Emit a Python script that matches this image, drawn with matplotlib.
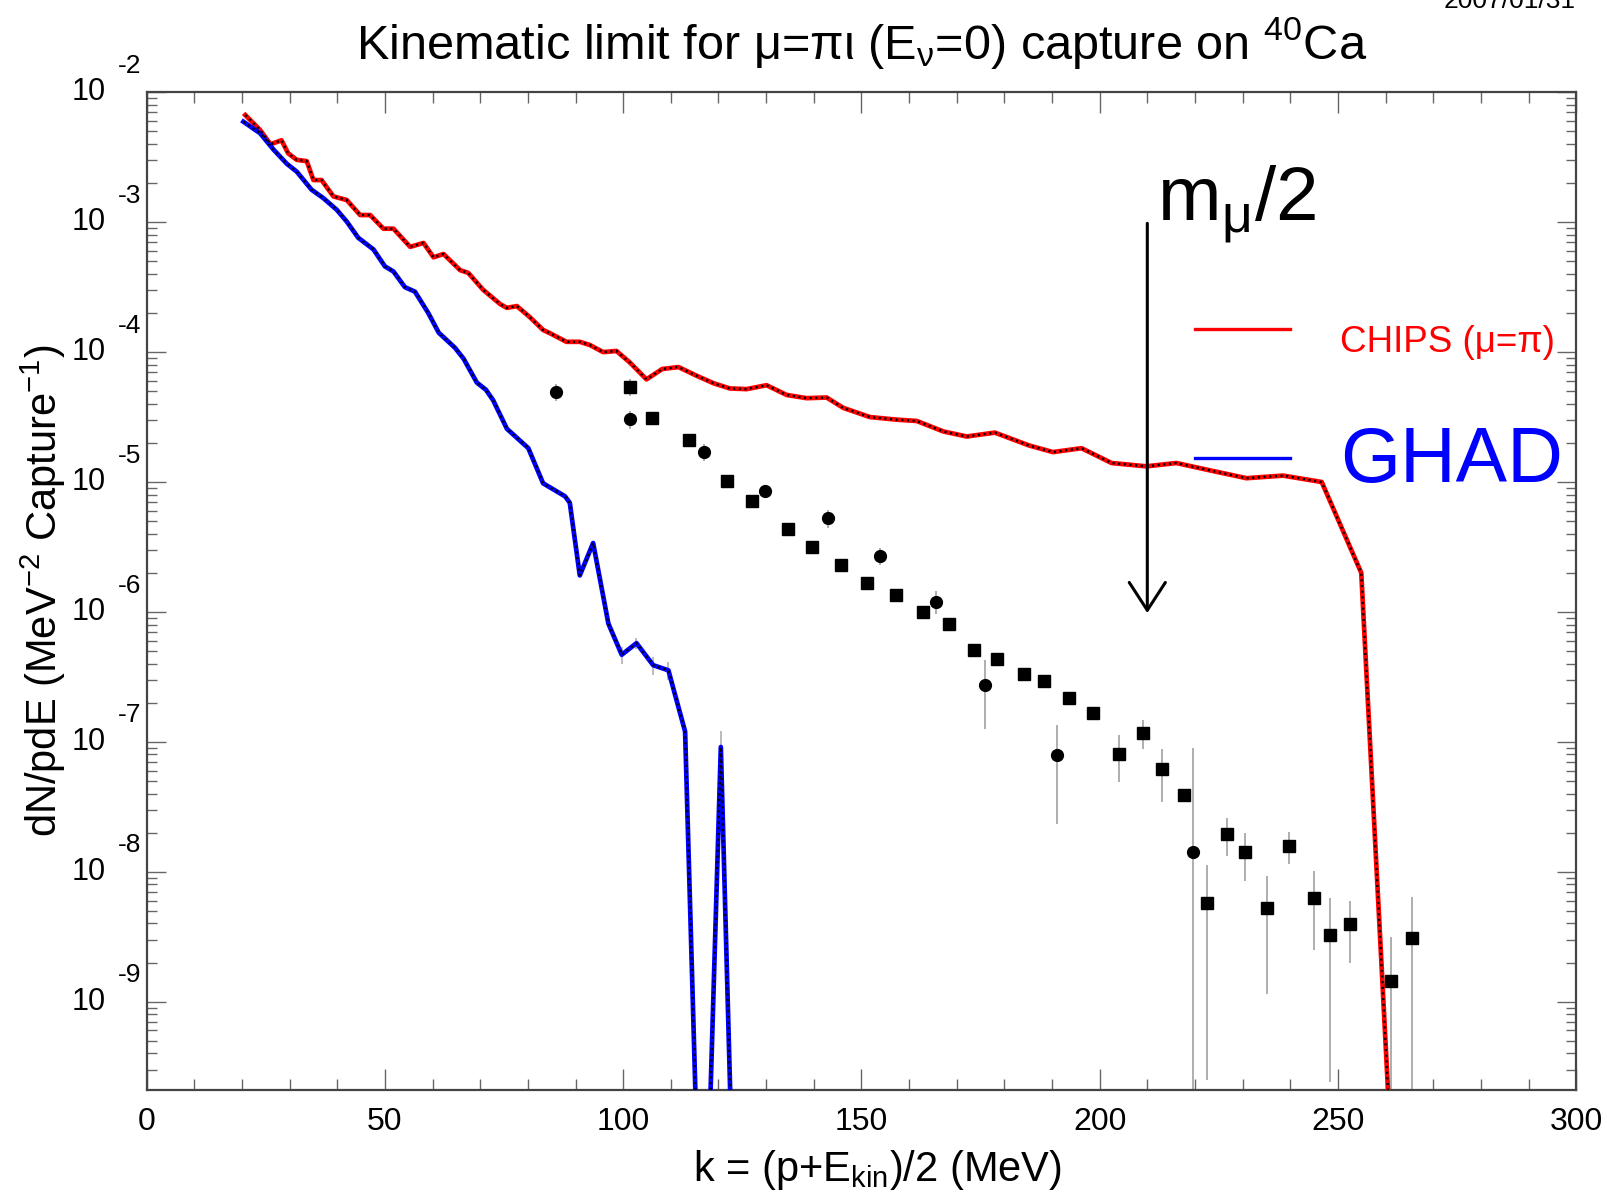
import numpy as np
import matplotlib
matplotlib.use('Agg')
import matplotlib.pyplot as plt
from matplotlib.ticker import LogLocator, NullFormatter, FixedLocator

plt.rcParams['font.family'] = ['Liberation Sans', 'DejaVu Sans']
plt.rcParams['mathtext.fontset'] = 'custom'
plt.rcParams['mathtext.rm'] = 'Liberation Sans'
plt.rcParams['mathtext.it'] = 'Liberation Sans:italic'
plt.rcParams['mathtext.bf'] = 'Liberation Sans:bold'
plt.rcParams['mathtext.sf'] = 'Liberation Sans'

# ---------------- data ----------------
chips_k = [20.7, 23.8, 26.0, 28.3, 29.7, 31.5, 33.6, 35.0, 36.7, 39.2, 42.0, 44.8, 46.9,
           49.7, 51.8, 55.3, 58.1, 60.2, 62.3, 65.8, 67.5, 70.6, 74.2, 75.6, 77.7, 80.4,
           83.2, 84.6, 88.1, 90.9, 93.0, 95.8, 98.6, 101.4, 104.9, 108.2, 111.6, 115.6,
           119.0, 122.4, 125.9, 130.1, 134.3, 138.5, 142.7, 146.2, 151.8, 157.4, 161.6,
           167.2, 172.1, 178.0, 185.2, 190.2, 196.2, 202.5, 209.8, 216.1, 223.1, 230.8,
           238.5, 246.6, 254.9, 260.6]
chips_val = [6.68e-3, 5.13e-3, 3.98e-3, 4.27e-3, 3.39e-3, 3.02e-3, 2.95e-3, 2.11e-3, 2.11e-3,
             1.58e-3, 1.48e-3, 1.135e-3, 1.135e-3, 8.91e-4, 8.91e-4, 6.46e-4, 6.92e-4,
             5.37e-4, 5.69e-4, 4.27e-4, 4.07e-4, 3.02e-4, 2.34e-4, 2.19e-4, 2.26e-4, 1.86e-4,
             1.48e-4, 1.40e-4, 1.20e-4, 1.20e-4, 1.135e-4, 1.00e-4, 1.02e-4, 8.32e-5, 6.17e-5,
             7.41e-5, 7.67e-5, 6.53e-5, 5.75e-5, 5.25e-5, 5.19e-5, 5.56e-5, 4.68e-5, 4.42e-5,
             4.47e-5, 3.72e-5, 3.16e-5, 3.02e-5, 2.95e-5, 2.45e-5, 2.24e-5, 2.40e-5, 1.91e-5,
             1.70e-5, 1.82e-5, 1.40e-5, 1.32e-5, 1.40e-5, 1.23e-5, 1.07e-5, 1.12e-5, 1.00e-5,
             2.00e-6, 1.8e-10]

ghad_k = [20.3, 23.8, 26.6, 29.4, 31.5, 34.6, 37.1, 39.9, 42.0, 44.4, 47.6, 50.0, 51.8,
          54.2, 56.3, 59.1, 61.3, 64.7, 66.5, 69.3, 71.2, 72.7, 75.6, 80.1, 83.2, 87.8,
          88.8, 90.9, 93.7, 96.9, 99.7, 102.8, 106.3, 109.5, 113.0, 115.2, 118.3, 120.5,
          122.5]
ghad_val = [5.94e-3, 4.84e-3, 3.63e-3, 2.82e-3, 2.45e-3, 1.78e-3, 1.53e-3, 1.245e-3, 1.01e-3,
            7.59e-4, 6.17e-4, 4.57e-4, 4.17e-4, 3.16e-4, 2.92e-4, 2.00e-4, 1.41e-4, 1.08e-4,
            8.91e-5, 5.82e-5, 5.13e-5, 4.27e-5, 2.57e-5, 1.82e-5, 9.77e-6, 7.76e-6, 6.92e-6,
            1.91e-6, 3.39e-6, 8.13e-7, 4.68e-7, 5.75e-7, 3.89e-7, 3.55e-7, 1.20e-7, 1.8e-10,
            1.8e-10, 9.12e-8, 1.8e-10]
ghad_err_k = [99.7, 102.8, 106.3, 109.5, 120.5]
ghad_err_val = [4.68e-7, 5.75e-7, 3.89e-7, 3.55e-7, 9.12e-8]
ghad_err = [7.0e-8, 6.0e-8, 6.0e-8, 5.5e-8, 3.0e-8]

circ_k = [86.0, 101.4, 117.0, 129.8, 142.9, 153.9, 165.7, 176.0, 191.1, 219.5]
circ_val = [4.95e-5, 3.04e-5, 1.70e-5, 8.51e-6, 5.25e-6, 2.69e-6, 1.20e-6, 2.75e-7, 7.94e-8,
            1.41e-8]
circ_err = [7.4e-6, 4.6e-6, 2.6e-6, 1.0e-6, 7.9e-7, 4.0e-7, 2.4e-7, 1.5e-7, 5.6e-8, 7.5e-8]

sq_k = [101.4, 106.0, 113.9, 121.7, 127.0, 134.6, 139.7, 145.7, 151.1, 157.3, 162.9, 168.3,
        173.7, 178.4, 184.2, 188.3, 193.5, 198.6, 204.0, 209.2, 213.0, 217.8, 222.5, 226.8,
        230.5, 235.2, 239.7, 244.9, 248.3, 252.6, 261.2, 265.6]
sq_val = [5.37e-5, 3.13e-5, 2.10e-5, 1.02e-5, 7.08e-6, 4.37e-6, 3.16e-6, 2.29e-6, 1.66e-6,
          1.35e-6, 1.00e-6, 8.13e-7, 5.13e-7, 4.37e-7, 3.31e-7, 2.95e-7, 2.19e-7, 1.66e-7,
          8.13e-8, 1.17e-7, 6.17e-8, 3.89e-8, 5.75e-9, 1.95e-8, 1.41e-8, 5.25e-9, 1.58e-8,
          6.31e-9, 3.24e-9, 3.98e-9, 1.45e-9, 3.09e-9]
sq_err = [8.1e-6, 1.6e-6, 1.1e-6, 5.0e-7, 3.5e-7, 2.2e-7, 1.9e-7, 1.4e-7, 1.0e-7, 9.5e-8,
          7.0e-8, 5.7e-8, 4.1e-8, 3.5e-8, 3.0e-8, 2.7e-8, 2.2e-8, 2.0e-8, 3.2e-8, 2.9e-8,
          2.7e-8, 4.7e-9, 5.5e-9, 6.4e-9, 5.6e-9, 4.1e-9, 4.3e-9, 3.8e-9, 3.0e-9, 2.0e-9,
          1.7e-9, 3.3e-9]

y_decades = [-9, -8, -7, -6, -5, -4, -3, -2]
x_major = [0, 50, 100, 150, 200, 250, 300]

arrow_k = 210
arrow_top = 9.8e-4
arrow_bottom = 9.8e-7

YMIN, YMAX = 2.09e-10, 1e-2

# ---------------- figure ----------------
fig = plt.figure(figsize=(16.08, 12.0), dpi=100)
ax = fig.add_axes([0.0912, 0.0917, 0.889, 0.8314])
ax.set_yscale('log')
ax.set_xlim(0, 300)
ax.set_ylim(YMIN, YMAX)

def vbars(k, v, e, lw=1.3):
    v = np.asarray(v); e = np.asarray(e)
    lo = np.clip(v - e, 1e-14, None)
    hi = v + e
    ax.vlines(k, lo, hi, color='#a8a8a8', lw=lw, zorder=2)

# curves
ax.plot(chips_k, chips_val, color='#ff0000', lw=3.4, zorder=3, solid_joinstyle='round')
ax.plot(chips_k, chips_val, color='black', lw=1.7, ls=(0, (0.9, 1.5)), zorder=4,
        dash_capstyle='butt')
vbars(ghad_err_k, ghad_err_val, ghad_err, lw=1.1)
ax.plot(ghad_k, ghad_val, color='#0000ff', lw=3.4, zorder=3, solid_joinstyle='round')
ax.plot(ghad_k, ghad_val, color='black', lw=1.7, ls=(0, (0.9, 1.5)), zorder=4,
        dash_capstyle='butt')

# data points
vbars(circ_k, circ_val, circ_err)
vbars(sq_k, sq_val, sq_err)
ax.plot(circ_k, circ_val, 'o', color='black', ms=8.5, mec='black', zorder=5)
ax.plot(sq_k, sq_val, 's', color='black', ms=8.8, mec='black', zorder=5)

# ticks
ax.xaxis.set_major_locator(FixedLocator(x_major))
ax.xaxis.set_minor_locator(FixedLocator(np.arange(0, 301, 10)))
ax.yaxis.set_major_locator(LogLocator(base=10, numticks=30))
ax.yaxis.set_minor_locator(LogLocator(base=10, subs=np.arange(2, 10), numticks=30))
ax.yaxis.set_minor_formatter(NullFormatter())
ax.tick_params(which='both', direction='in', top=True, right=True, color='#666666', width=1.0)
ax.tick_params(axis='x', which='major', length=15, labelsize=23, pad=12)
ax.tick_params(axis='x', which='minor', length=8)
ax.tick_params(axis='y', which='major', length=14, labelleft=False)
ax.tick_params(axis='y', which='minor', length=7)
for sp in ax.spines.values():
    sp.set_color('#444444')
    sp.set_linewidth(1.6)

for e in y_decades:
    ax.annotate('10', xy=(0, 10.0 ** e), xycoords=('axes fraction', 'data'),
                xytext=(-29.5, 0), textcoords='offset points', ha='right', va='center',
                fontsize=22)
    ax.annotate('%d' % e, xy=(0, 10.0 ** e), xycoords=('axes fraction', 'data'),
                xytext=(-20.6, 19), textcoords='offset points', ha='left', va='center',
                fontsize=19)

# arrow m_mu/2
ax.annotate('', xy=(arrow_k, arrow_bottom), xytext=(arrow_k, arrow_top),
            arrowprops=dict(arrowstyle='->,head_length=1.0,head_width=0.65', color='black',
                            lw=2.2, shrinkA=0, shrinkB=0, mutation_scale=20), zorder=6)
ax.text(212.0, 10 ** -2.987, r'm$_{\mathregular{\mu}}$/2', fontsize=55, ha='left',
        va='baseline', zorder=6)

# legend
ax.plot([220, 240], [1.50e-4, 1.50e-4], color='#ff0000', lw=2.4)
ax.plot([220, 240], [1.52e-5, 1.52e-5], color='#0000ff', lw=2.4)
ax.text(250.4, 10 ** -3.997, 'CHIPS (μ=π)', color='#ff0000', fontsize=26.5, ha='left',
        va='baseline')
ax.text(250.4, 10 ** -4.998, 'GHAD', color='#0000ff', fontsize=55.5, ha='left', va='baseline')

# titles
fig.text(0.5357, 0.951, r'Kinematic limit for μ=πι (E$_{\mathregular{ν}}$=0) capture on $^{\mathregular{40}}$Ca',
         fontsize=35, ha='center', va='baseline')
fig.text(0.5454, 0.0158, r'k = (p+E$_{\mathregular{kin}}$)/2 (MeV)', fontsize=30,
         ha='center', va='baseline')
fig.text(0.027, 0.508, r'dN/pdE (MeV$^{\mathregular{-2}}$ Capture$^{\mathregular{-1}}$)',
         fontsize=30, rotation=90, ha='center', va='center')
fig.text(0.980, 0.9936, '2007/01/31', fontsize=19, ha='right', va='baseline')

fig.savefig('out.png', dpi=100)
